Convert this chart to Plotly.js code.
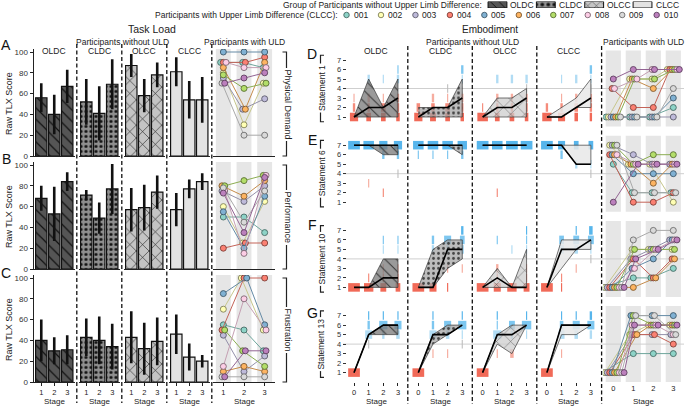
<!DOCTYPE html>
<html><head><meta charset="utf-8">
<script src="https://cdn.plot.ly/plotly-3.0.1.min.js"></script>
<style>html,body{margin:0;padding:0;background:#fff}#chart{width:685px;height:406px}</style>
</head><body><div id="chart"></div>
<script>
// ---------------- DATA ----------------
const groups = ['OLDC','CLDC','OLCC','CLCC'];
const tlxStages = [1,2,3];
const stages = [0,1,2,3];
const likertLevels = [1,2,3,4,5,6,7];
const participants = ['001','002','003','004','005','006','007','008','009','010'];
const tlxMeasures = ['Physical Demand','Performance','Frustration'];
const statements = ['Statement 1','Statement 6','Statement 10','Statement 13'];

// Task load: mean and error per group (rows) per stage
const physicalMean = [[56,40,67],[52,41,69],[87,58,78],[81,54,54]];
const physicalErr  = [[14,19,16],[22,26,24],[11,16,12],[14,18,22]];
const performanceMean = [[68,53,84],[71,49,77],[57,59,74],[57,77,84]];
const performanceErr  = [[12,26,9],[5,15,24],[21,22,16],[16,9,8]];
const frustrationMean = [[40,30,31],[43,40,34],[43,32,39],[46,24,20]];
const frustrationErr  = [[20,13,14],[18,23,22],[25,25,23],[19,13,6]];

// Participants with ULD, raw TLX per stage 1..3
const physicalULD = [[90,90,85],[80,30,70],[75,45,55],[90,90,95],[100,100,100],[85,45,90],[78,65,70],[90,85,85],[70,20,20],[70,75,80]];
const performanceULD = [[50,50,35],[60,25,65],[75,65,80],[20,25,25],[55,20,70],[80,70,85],[80,85,90],[75,15,90],[78,45,75],[73,35,88]];
const frustrationULD = [[55,50,30],[70,100,50],[45,10,25],[50,100,100],[85,100,55],[10,15,10],[50,30,15],[15,80,50],[5,5,5],[5,30,30]];

// Embodiment: median / quartiles per group per stage 0..3
const s1Median = [[1,2,2,3],[1,2,2,3],[1,2,2,3],[1,1,2,3]];
const s1Q1 = [[1,1,1,1],[1,1,1,1],[1,1,1,1],[1,1,2,2]];
const s1Q3 = [[1,5,2,5],[2,2,2,5],[1,3,3,4],[1,2,3,5]];
const s6Median = [[7,7,7,7],[7,7,7,7],[7,7,7,7],[7,7,5,5]];
const s6Q1 = [[7,7,6,6],[7,7,7,6],[7,7,7,7],[7,7,5,5]];
const s6Q3 = [[7,7,7,7],[7,7,7,7],[7,7,7,7],[7,7,7,7]];
const s10Median = [[1,1,2,2],[1,1,5,5],[1,2,1,1],[1,5,5,6]];
const s10Q1 = [[1,1,1,1],[1,1,3,4],[1,1,1,1],[1,3,5,5]];
const s10Q3 = [[1,1,4,4],[1,5,6,6],[1,3,1,5],[1,6,6,6]];
const s13Median = [[1,5,6,6],[1,5,5,6],[1,5,5,6],[1,6,6,6]];
const s13Q1 = [[1,5,5,5],[1,4,5,6],[1,4,3,6],[1,5,5,6]];
const s13Q3 = [[1,5,6,6],[1,5,6,6],[1,5,6,6],[1,6,6,6]];

// Response counts: group -> stage -> level(1..7)
const s1Counts = [
 [[7,2,1,0,0,0,0],[4,2,2,0,2,0,0],[4,4,1,0,1,0,0],[3,2,2,0,2,1,0]],
 [[7,3,0,0,0,0,0],[5,3,2,0,0,0,0],[4,4,1,1,0,0,0],[3,2,2,0,1,2,0]],
 [[9,1,0,0,0,0,0],[4,2,2,0,2,0,0],[4,2,2,0,2,0,0],[3,2,2,1,2,0,0]],
 [[8,2,0,0,0,0,0],[6,2,1,0,1,0,0],[3,3,2,0,2,0,0],[2,2,2,1,1,2,0]]];
const s6Counts = [
 [[0,0,0,0,0,0,10],[0,0,1,0,0,0,9],[0,1,0,0,0,2,7],[0,0,0,1,0,2,7]],
 [[0,0,0,0,0,1,9],[0,0,0,0,0,1,9],[0,0,0,0,0,1,9],[0,0,0,0,0,2,8]],
 [[0,0,0,0,0,0,10],[0,1,0,0,0,0,9],[0,0,0,0,0,0,10],[0,0,0,0,0,0,10]],
 [[0,0,0,0,0,0,10],[0,0,0,0,0,2,6],[0,0,0,0,2,0,4],[0,0,0,1,1,0,4]]];
const s10Counts = [
 [[10,0,0,0,0,0,0],[8,1,0,0,0,0,0],[5,1,1,0,1,1,0],[4,1,1,0,1,1,0]],
 [[10,0,0,0,0,0,0],[6,0,0,0,2,2,0],[1,0,1,0,2,6,0],[0,0,1,0,3,4,2]],
 [[10,0,0,0,0,0,0],[6,1,2,0,0,1,0],[8,0,0,0,1,0,0],[5,1,1,0,1,1,1]],
 [[10,0,0,0,0,0,0],[1,1,0,0,4,4,0],[0,0,1,0,3,5,1],[0,0,0,1,1,5,3]]];
const s13Counts = [
 [[10,0,0,0,0,0,0],[0,0,0,1,6,2,1],[0,0,0,0,2,7,1],[0,0,0,0,3,6,1]],
 [[10,0,0,0,0,0,0],[0,0,1,0,6,2,1],[0,0,1,0,3,6,0],[0,0,0,1,1,7,1]],
 [[10,0,0,0,0,0,0],[0,0,1,0,7,1,1],[0,0,3,0,2,5,0],[0,0,0,0,1,8,1]],
 [[10,0,0,0,0,0,0],[0,0,1,0,5,3,1],[0,0,0,0,3,6,1],[0,0,0,0,2,6,2]]];

// Participants with ULD, Likert per stage 0..3
const s1ULD = [[1,1,1,2],[1,5,5,6],[1,1,1,1],[4,2,2,6],[1,1,1,3],[1,5,4,6],[1,5,5,6],[4,5,6,6],[1,1,1,4],[5,6,6,6]];
const s6ULD = [[5,2,2,2],[7,5,5,1],[7,6,5,5],[6,1,1,2],[6,4,4,4],[6,5,3,5],[7,5,6,6],[6,5,5,5],[7,2,2,2],[1,5,5,5]];
const s10ULD = [[1,2,2,3],[1,5,5,5],[1,4,5,6],[1,4,2,4],[1,3,4,6],[1,1,2,4],[1,5,5,5],[1,3,5,6],[1,6,7,7],[1,4,5,6]];
const s13ULD = [[1,3,3,3],[1,5,6,6],[1,5,5,5],[1,5,5,4],[1,7,7,7],[1,5,6,6],[1,7,6,6],[1,6,6,5],[1,7,7,5],[1,6,6,6]];

// ---------------- STYLE ----------------
const FONT = 'Liberation Sans, Arial, sans-serif';
const pColors = ['#8dd3c7','#ffffb3','#bebada','#fb8072','#80b1d3','#fdb462','#b3de69','#fccde5','#d9d9d9','#bc80bd'];
const levelColors = ['#f05a46','#f4806e','#f6a596','#bdbdbd','#a9d9f3','#70c1ef','#45aeea'];
const barStyles = [
  {color:'#555555', pattern:{shape:'\\', fgcolor:'#111', size:8, solidity:0.15}},
  {color:'#8f8f8f', pattern:{shape:'.', fgcolor:'#111', size:5, solidity:0.3}},
  {color:'#c4c4c4', pattern:{shape:'x', fgcolor:'#111', size:9, solidity:0.12}},
  {color:'#e3e3e3', pattern:null}];
const polyStyles = [
  {bg:'rgba(120,120,120,0.75)', pattern:{shape:'\\', fgcolor:'#333', size:8, solidity:0.12}},
  {bg:'rgba(165,165,165,0.75)', pattern:{shape:'.', fgcolor:'#444', size:5, solidity:0.25}},
  {bg:'rgba(205,205,205,0.75)', pattern:{shape:'x', fgcolor:'#444', size:10, solidity:0.08}},
  {bg:'rgba(232,232,232,0.85)', pattern:null}];
const CW = 0.08; // stage units per response

function darken(hex, f){
  const n = parseInt(hex.slice(1),16);
  const r = Math.round(((n>>16)&255)*f), g = Math.round(((n>>8)&255)*f), b = Math.round((n&255)*f);
  return `rgb(${r},${g},${b})`;
}

const W=685, H=406;
const fx = p => p/W;
const fy = p => 1 - p/H;

const layout = {width:W, height:H, margin:{l:0,r:0,t:0,b:0}, showlegend:false, barmode:'overlay',
  paper_bgcolor:'#fff', plot_bgcolor:'rgba(0,0,0,0)', font:{family:FONT, size:8.5, color:'#222'},
  shapes:[], annotations:[]};
const data = [];
let nAx = 0;
function addAxes(xpx, ypx, xo, yo){
  nAx++;
  const s = nAx===1 ? '' : String(nAx);
  layout['xaxis'+s] = Object.assign({domain:[fx(xpx[0]), fx(xpx[1])], anchor:'y'+s, showgrid:false, zeroline:false,
    showticklabels:false, ticks:'', showline:false, fixedrange:true}, xo);
  layout['yaxis'+s] = Object.assign({domain:[fy(ypx[1]), fy(ypx[0])], anchor:'x'+s, showgrid:false, zeroline:false,
    showticklabels:false, ticks:'', showline:false, fixedrange:true}, yo);
  return {x:'x'+s, y:'y'+s};
}
function ann(text, xpx, ypx, o){
  layout.annotations.push(Object.assign({text, x:fx(xpx), y:fy(ypx), xref:'paper', yref:'paper', showarrow:false,
    xanchor:'center', yanchor:'middle', font:{size:8.5, color:'#222'}}, o||{}));
}
function dodge(matrix, s, p, d){
  const v = matrix[p][s]; const same = [];
  for (let q=0;q<matrix.length;q++) if (matrix[q][s]===v) same.push(q);
  return (same.indexOf(p) - (same.length-1)/2)*d;
}
function uldTraces(matrix, xs, ax, d){
  matrix.forEach((row, p) => {
    data.push({type:'scatter', mode:'lines+markers', xaxis:ax.x, yaxis:ax.y, hoverinfo:'skip',
      x: row.map((v,s)=> xs[s] + dodge(matrix, s, p, d)), y: row,
      line:{color:darken(pColors[p],0.78), width:1},
      marker:{size:6, color:pColors[p], line:{color:darken(pColors[p],0.5), width:0.9}}});
  });
}
const STAGE_Y = 401;
const STAGE_FONT = {size:8, color:'#222'};
const XTICKFONT = {size:7.5, color:'#222'};

// ---------------- LEFT: TASK LOAD ----------------
const tlxMeans = [physicalMean, performanceMean, frustrationMean];
const tlxErrs = [physicalErr, performanceErr, frustrationErr];
const tlxULD = [physicalULD, performanceULD, frustrationULD];
const leftBottoms = [156, 269, 382];
const LH = 104*1.03;
tlxMeasures.forEach((m, r) => {
  const b = leftBottoms[r], t = b - LH;
  const last = r === 2;
  groups.forEach((g, gi) => {
    const x0 = 33.5 + 45*gi;
    const ax = addAxes([x0, x0+41.5], [t, b],
      {range:[0.4,3.6], showline:true, linecolor:'#222', linewidth:1,
       ticks: last?'outside':'', ticklen:2.5, tickcolor:'#222', tickvals:tlxStages, showticklabels:last,
       tickfont:XTICKFONT},
      {range:[0,103], showline:gi===0, linecolor:'#222', linewidth:1, ticks:gi===0?'outside':'', ticklen:3,
       tickcolor:'#222', tickvals:[0,20,40,60,80,100], showticklabels:gi===0, tickfont:{size:8, color:'#333'}});
    const st = barStyles[gi];
    const marker = {color:st.color, line:{color:'#111', width:1.2}};
    if (st.pattern) marker.pattern = Object.assign({bgcolor:st.color, fillmode:'replace'}, st.pattern);
    data.push({type:'bar', x:tlxStages, y:tlxMeans[r][gi], width:0.88, marker, xaxis:ax.x, yaxis:ax.y, hoverinfo:'skip',
      error_y:{type:'data', array:tlxErrs[r][gi], color:'#111', thickness:2.6, width:0}});
    if (r===0) ann(g, x0+20.75, 51);
    if (last) ann('Stage', x0+20.75, STAGE_Y, {font:STAGE_FONT});
  });
  const axU = addAxes([213, 275], [t, b],
    {range:[0.5,3.5], showline:true, linecolor:'#222', linewidth:1, ticks:last?'outside':'', ticklen:2.5, tickcolor:'#222',
     tickvals:tlxStages, showticklabels:last, tickfont:XTICKFONT},
    {range:[0,103]});
  if (last) ann('Stage', 244, STAGE_Y, {font:STAGE_FONT});
  tlxStages.forEach(s => layout.shapes.push({type:'rect', xref:axU.x, yref:axU.y+' domain', x0:s-0.36, x1:s+0.36, y0:0, y1:1,
    fillcolor:'#e6e6e6', line:{width:0}, layer:'below'}));
  uldTraces(tlxULD[r], tlxStages, axU, 0.13);
  // bracket + measure label
  const yt = b - 104;
  layout.shapes.push({type:'path', xref:'paper', yref:'paper',
    path:`M ${fx(282.5)},${fy(yt)} L ${fx(286.5)},${fy(yt)} L ${fx(286.5)},${fy(b)} L ${fx(282.5)},${fy(b)}`,
    line:{color:'#222', width:1.2}});
  ann(m, 287.5, (yt+b)/2, {textangle:90, bgcolor:'#fff', borderpad:1, font:{size:9, color:'#222'}});
  ann('Raw TLX Score', 9, (yt+b)/2, {textangle:-90, font:{size:9, color:'#222'}});
  ann(['A','B','C'][r], 6, [45,159,273][r], {font:{size:14, color:'#111'}});
});
ann('Participants with ULD', 244, 42);
ann('Participants without ULD', 122, 42);
ann('Task Load', 152, 29, {font:{size:10.5, color:'#222'}});
[76.8, 121.8, 166.8, 211.8].forEach(xp => layout.shapes.push({type:'line', xref:'paper', yref:'paper',
  x0:fx(xp), x1:fx(xp), y0:fy(44), y1:fy(403), line:{color:'#111', width:1.3, dash:'4px,2.5px'}}));

// ---------------- RIGHT: EMBODIMENT ----------------
const stMedians = [s1Median, s6Median, s10Median, s13Median];
const stQ1 = [s1Q1, s6Q1, s10Q1, s13Q1];
const stQ3 = [s1Q3, s6Q3, s10Q3, s13Q3];
const stCounts = [s1Counts, s6Counts, s10Counts, s13Counts];
const stULD = [s1ULD, s6ULD, s10ULD, s13ULD];
const rightBottoms = [126.5, 211.7, 296.9, 382.1];
statements.forEach((stName, r) => {
  const b = rightBottoms[r], t = b - 76;
  const last = r === 3;
  let firstY = null;
  groups.forEach((g, gi) => {
    const x0 = 346.7 + 64.3*gi;
    const ax = addAxes([x0, x0+58.6], [t, b],
      {range:[-0.5,3.5], ticks:last?'outside':'', ticklen:2.5, tickcolor:'#222', tickvals:stages, showticklabels:last,
       tickfont:XTICKFONT},
      {range:[0,8], ticks:gi===0?'outside':'', ticklen:3, tickcolor:'#333', tickvals:likertLevels,
       showticklabels:gi===0, tickfont:{size:7.5, color:'#333'}});
    if (gi===0) firstY = ax.y;
    // response distribution
    const xs=[], bases=[], ys=[], cols=[];
    stCounts[r][gi].forEach((lv, si) => lv.forEach((c, li) => {
      if (c>0){ const w=c*CW; xs.push(w); bases.push(stages[si]-w/2); ys.push(likertLevels[li]); cols.push(levelColors[li]); }
    }));
    data.push({type:'bar', orientation:'h', x:xs, base:bases, y:ys, width:0.9, marker:{color:cols, line:{width:0}},
      opacity:0.9, xaxis:ax.x, yaxis:ax.y, hoverinfo:'skip'});
    // IQR polygon
    const ps = polyStyles[gi];
    const poly = {type:'scatter', mode:'lines', xaxis:ax.x, yaxis:ax.y, hoverinfo:'skip',
      x: stages.concat(stages.slice().reverse()), y: stQ3[r][gi].concat(stQ1[r][gi].slice().reverse()),
      fill:'toself', fillcolor:ps.bg, line:{color:'#3a3a3a', width:0.7}};
    if (ps.pattern) poly.fillpattern = Object.assign({bgcolor:ps.bg, fillmode:'replace'}, ps.pattern);
    data.push(poly);
    data.push({type:'scatter', mode:'lines', xaxis:ax.x, yaxis:ax.y, hoverinfo:'skip', x:stages, y:stMedians[r][gi],
      line:{color:'#000', width:1.6}});
    if (r===0) ann(g, x0+29.3, 51);
    if (last) ann('Stage', x0+29.3, STAGE_Y, {font:STAGE_FONT});
  });
  const axU = addAxes([603.3, 683.3], [t, b],
    {range:[-0.5,3.5], ticks:'', tickvals:stages, showticklabels:last, tickfont:XTICKFONT},
    {range:[0,8]});
  if (last) ann('Stage', 643.3, STAGE_Y, {font:STAGE_FONT});
  stages.forEach(s => layout.shapes.push({type:'rect', xref:axU.x, yref:axU.y+' domain', x0:s-0.38, x1:s+0.38, y0:0, y1:1,
    fillcolor:'#e6e6e6', line:{width:0}, layer:'below'}));
  layout.shapes.push({type:'line', xref:'paper', yref:firstY, x0:fx(343), x1:fx(684), y0:4, y1:4,
    line:{color:'#cfcfcf', width:1}, layer:'below'});
  uldTraces(stULD[r], stages, axU, 0.12);
  // statement bracket + label
  const yt = b - 7.5*9.5, yb = b - 0.5*9.5;
  layout.shapes.push({type:'path', xref:'paper', yref:'paper',
    path:`M ${fx(324)},${fy(yt)} L ${fx(320.5)},${fy(yt)} L ${fx(320.5)},${fy(yb)} L ${fx(324)},${fy(yb)}`,
    line:{color:'#222', width:1.2}});
  ann(stName, 321.5, (yt+yb)/2, {textangle:-90, bgcolor:'#fff', borderpad:1, font:{size:8.5, color:'#222'}});
  ann(['D','E','F','G'][r], 312, [54,140,225,313][r], {font:{size:14, color:'#111'}});
});
ann('Participants with ULD', 643.3, 42);
ann('Participants without ULD', 472, 42);
ann('Embodiment', 490, 29.5, {font:{size:10, color:'#222'}});
[407.8, 472.3, 536.8, 601.6].forEach(xp => layout.shapes.push({type:'line', xref:'paper', yref:'paper',
  x0:fx(xp), x1:fx(xp), y0:fy(46), y1:fy(404), line:{color:'#111', width:1.3, dash:'4px,2.5px'}}));

// ---------------- LEGEND ----------------
const axL1 = addAxes([473.3, 666.7], [1.5, 8], {range:[-0.5,3.5]}, {range:[0,1]});
groups.forEach((g, gi) => {
  const st = barStyles[gi];
  const marker = {color:st.color, line:{color:'#111', width:1}};
  if (st.pattern) marker.pattern = Object.assign({bgcolor:st.color, fillmode:'replace'}, st.pattern, {size:6});
  data.push({type:'bar', x:[gi], y:[1], base:[0], width:0.39, marker, xaxis:axL1.x, yaxis:axL1.y, hoverinfo:'skip'});
  layout.annotations.push({text:g, xref:axL1.x, x:gi, xshift:11, xanchor:'left', yref:'paper', y:fy(5), yanchor:'middle',
    showarrow:false, font:{size:8.5, color:'#222'}});
});
ann('Group of Participants without Upper Limb Difference:', 484, 5, {xanchor:'right'});
const axL2 = addAxes([329.3, 673.9], [11, 19], {range:[-0.5,9.5]}, {range:[0,1]});
data.push({type:'scatter', mode:'markers', x:participants.map((p,i)=>i), y:participants.map(()=>0.5),
  marker:{size:5.5, color:pColors, line:{color:pColors.map(c=>darken(c,0.5)), width:0.9}},
  xaxis:axL2.x, yaxis:axL2.y, hoverinfo:'skip'});
participants.forEach((p,i) => layout.annotations.push({text:p, xref:axL2.x, x:i, xshift:5, xanchor:'left',
  yref:'paper', y:fy(15), yanchor:'middle', showarrow:false, font:{size:8.5, color:'#222'}}));
ann('Participants with Upper Limb Difference (CLCC):', 340, 15, {xanchor:'right'});

Plotly.newPlot('chart', data, layout, {staticPlot:true, displayModeBar:false});
</script></body></html>
